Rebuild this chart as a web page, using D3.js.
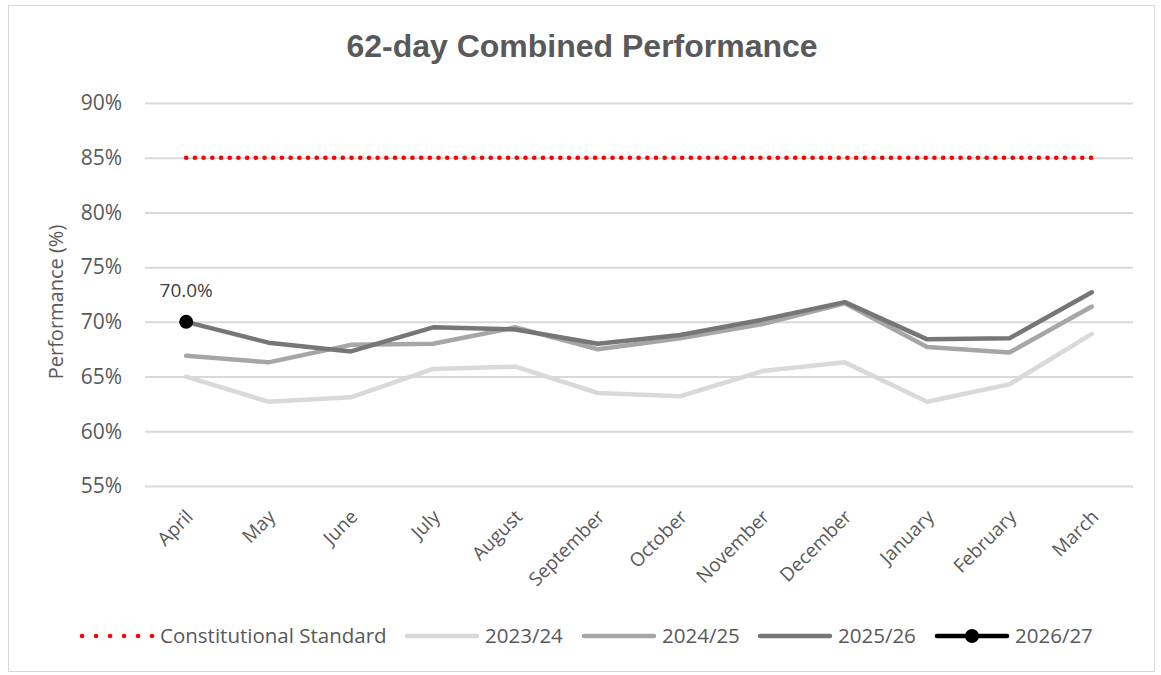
<!DOCTYPE html>
<html>
<head>
<meta charset="utf-8">
<script src="https://cdn.jsdelivr.net/npm/d3@7"></script>
<style>
  body { margin: 0; background: #fff; }
  svg text { font-family: "Open Sans", "Liberation Sans", Arial, sans-serif; }
  svg text.title { font-family: "Liberation Sans", Arial, sans-serif; }
</style>
</head>
<body>
<div id="chart"></div>
<script>
// month categories (financial year)
var months = ['April', 'May', 'June', 'July', 'August', 'September', 'October',
    'November', 'December', 'January', 'February', 'March'];

var yTicks = [55, 60, 65, 70, 75, 80, 85, 90];

var standard = [85, 85, 85, 85, 85, 85, 85, 85, 85, 85, 85, 85];
var fy2324 = [65.0, 62.7, 63.1, 65.7, 65.9, 63.5, 63.2, 65.5, 66.3, 62.7, 64.3, 68.9];
var fy2425 = [66.9, 66.3, 67.9, 68.0, 69.5, 67.5, 68.5, 69.8, 71.7, 67.7, 67.2, 71.4];
var fy2526 = [70.0, 68.1, 67.3, 69.5, 69.3, 68.0, 68.8, 70.2, 71.8, 68.4, 68.5, 72.7];
var fy2627 = [70.0];

var svgWidth = 1161;
var svgHeight = 675;

var margin = { top: 103, right: 28, bottom: 189, left: 145 };
var width = svgWidth - margin.left - margin.right;
var height = svgHeight - margin.top - margin.bottom;

var svg = d3.select('#chart')
    .append('svg')
    .attr('width', svgWidth)
    .attr('height', svgHeight);

// outer frame
svg.append('rect')
    .attr('x', 8.5)
    .attr('y', 5.5)
    .attr('width', 1146)
    .attr('height', 666)
    .attr('fill', '#fff')
    .attr('stroke', '#d9d9d9')
    .attr('stroke-width', 1);

svg.append('text')
    .attr('class', 'title')
    .attr('x', 582)
    .attr('y', 57)
    .attr('text-anchor', 'middle')
    .attr('font-size', 32)
    .attr('font-weight', 'bold')
    .attr('fill', '#595959')
    .text('62-day Combined Performance');

var chartGroup = svg.append('g')
    .attr('transform', `translate(${margin.left}, ${margin.top})`);

var xScale = d3.scaleBand()
    .domain(months)
    .range([0, width]);

var yScale = d3.scaleLinear()
    .domain([55, 90])
    .range([height, 0]);

var xPos = function(d, i) { return xScale(months[i]) + xScale.bandwidth() / 2; };

// gridlines
var leftAxis = d3.axisLeft(yScale)
    .tickValues(yTicks)
    .tickSize(-width)
    .tickPadding(23)
    .tickFormat(d => d + '%');

var yAxis = chartGroup.append('g').call(leftAxis);
yAxis.select('.domain').remove();
yAxis.selectAll('line').attr('stroke', '#d9d9d9').attr('stroke-width', 2);
yAxis.selectAll('text')
    .attr('fill', '#595959')
    .attr('font-size', 21);

var bottomAxis = d3.axisBottom(xScale).tickSize(0).tickPadding(0);
var xAxis = chartGroup.append('g')
    .attr('transform', `translate(0, ${height})`)
    .call(bottomAxis);
xAxis.select('.domain').remove();
xAxis.selectAll('text')
    .attr('fill', '#595959')
    .attr('font-size', 19)
    .attr('text-anchor', 'end')
    .attr('dy', 0)
    .attr('transform', 'translate(8, 32) rotate(-45)');

// y axis title
svg.append('text')
    .attr('transform', 'translate(63, 302) rotate(-90)')
    .attr('text-anchor', 'middle')
    .attr('font-size', 20)
    .attr('fill', '#595959')
    .text('Performance (%)');

var line = d3.line()
    .x(xPos)
    .y(d => yScale(d));

// constitutional standard dotted
chartGroup.append('path')
    .datum(standard)
    .attr('d', line)
    .attr('fill', 'none')
    .attr('stroke', '#ff0000')
    .attr('stroke-width', 4.5)
    .attr('stroke-linecap', 'round')
    .attr('stroke-dasharray', '0.1 8.6');

var series = [
    { name: '2023/24', values: fy2324, color: '#d9d9d9' },
    { name: '2024/25', values: fy2425, color: '#a6a6a6' },
    { name: '2025/26', values: fy2526, color: '#767676' }
];

series.forEach(function(s) {
    chartGroup.append('path')
        .datum(s.values)
        .attr('d', line)
        .attr('fill', 'none')
        .attr('stroke', s.color)
        .attr('stroke-width', 4.5)
        .attr('stroke-linejoin', 'round')
        .attr('stroke-linecap', 'round');
});

// 2026/27 point
chartGroup.selectAll('.pt')
    .data(fy2627)
    .enter()
    .append('circle')
    .attr('cx', xPos)
    .attr('cy', d => yScale(d))
    .attr('r', 7)
    .attr('fill', '#000');

chartGroup.selectAll('.lbl')
    .data(fy2627)
    .enter()
    .append('text')
    .attr('x', xPos)
    .attr('y', d => yScale(d) - 25)
    .attr('text-anchor', 'middle')
    .attr('font-size', 19)
    .attr('fill', '#404040')
    .text(d => d.toFixed(1) + '%');

// legend
var legendItems = [
    { name: 'Constitutional Standard', x: 82, type: 'dot', color: '#ff0000' },
    { name: '2023/24', x: 407, type: 'line', color: '#d9d9d9' },
    { name: '2024/25', x: 584, type: 'line', color: '#a6a6a6' },
    { name: '2025/26', x: 760, type: 'line', color: '#767676' },
    { name: '2026/27', x: 937, type: 'marker', color: '#000' }
];

var legend = svg.append('g').attr('transform', 'translate(0, 636)');

legendItems.forEach(function(item) {
    var g = legend.append('g').attr('transform', `translate(${item.x}, 0)`);
    var ln = g.append('line')
        .attr('x1', 0)
        .attr('x2', 70)
        .attr('y1', 0)
        .attr('y2', 0)
        .attr('stroke', item.color)
        .attr('stroke-width', 4.5)
        .attr('stroke-linecap', 'round');
    if (item.type === 'dot') {
        ln.attr('stroke-dasharray', '0.1 13.9');
    }
    if (item.type === 'marker') {
        g.append('circle')
            .attr('cx', 35)
            .attr('cy', 0)
            .attr('r', 7)
            .attr('fill', item.color);
    }
    g.append('text')
        .attr('x', 78)
        .attr('y', 7)
        .attr('font-size', 20.5)
        .attr('fill', '#595959')
        .text(item.name);
});
</script>
</body>
</html>
